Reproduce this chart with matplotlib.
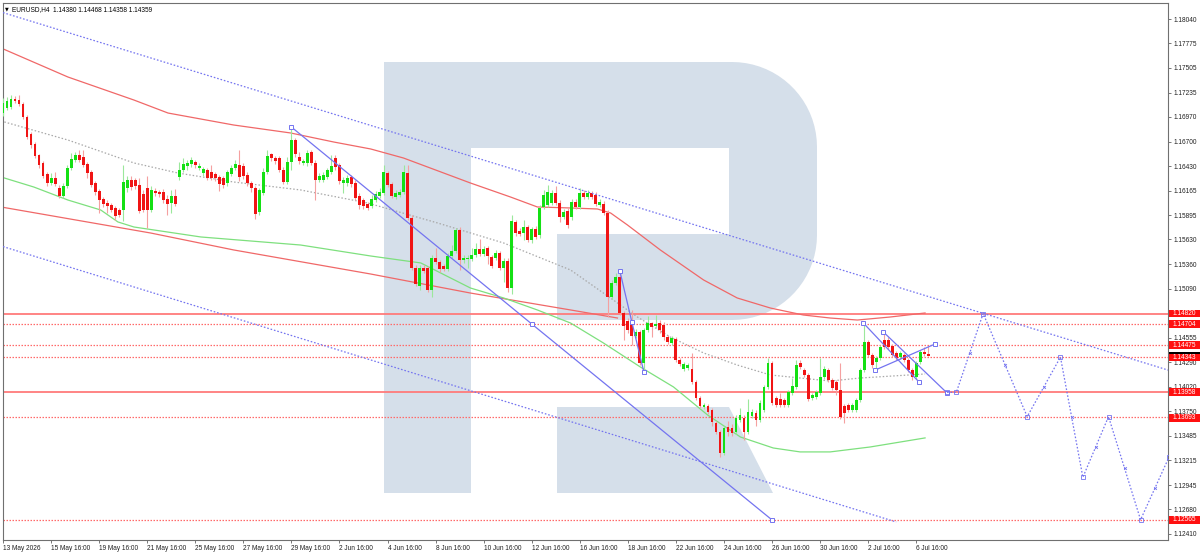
import matplotlib
matplotlib.use('Agg')
import matplotlib.pyplot as plt
import matplotlib.transforms as mtransforms
from matplotlib.patches import Rectangle, Polygon
import numpy as np

# EURUSD H4 свечи (бар 0 = 13 May 16:00)
opens = [
    1.17012, 1.17067, 1.17078, 1.17165, 1.17154, 1.17110, 1.16969, 1.16782, 1.16673, 1.16553,
    1.16465, 1.16345, 1.16247, 1.16302, 1.16192, 1.16104, 1.16214, 1.16411, 1.16498, 1.16553,
    1.16531, 1.16454, 1.16367, 1.16247, 1.16159, 1.16072, 1.16028, 1.16006, 1.15974, 1.15952,
    1.15952, 1.16192, 1.16280, 1.16280, 1.16225, 1.16126, 1.16192, 1.15952, 1.16159, 1.16148,
    1.16148, 1.16072, 1.16028, 1.16104, 1.16312, 1.16389, 1.16433, 1.16454, 1.16476, 1.16411,
    1.16356, 1.16389, 1.16367, 1.16345, 1.16312, 1.16302, 1.16247, 1.16345, 1.16411, 1.16443,
    1.16433, 1.16334, 1.16247, 1.16192, 1.15930, 1.16137, 1.16367, 1.16564, 1.16520, 1.16520,
    1.16389, 1.16258, 1.16476, 1.16717, 1.16531, 1.16465, 1.16465, 1.16586, 1.16465, 1.16280,
    1.16280, 1.16312, 1.16367, 1.16520, 1.16443, 1.16247, 1.16247, 1.16312, 1.16247, 1.16104,
    1.16061, 1.16017, 1.15996, 1.16061, 1.16104, 1.16137, 1.16356, 1.16236, 1.16094, 1.16115,
    1.16148, 1.16356, 1.15864, 1.15318, 1.15120, 1.15318, 1.15318, 1.15077, 1.15427, 1.15383,
    1.15340, 1.15307, 1.15449, 1.15503, 1.15733, 1.15405, 1.15416, 1.15416, 1.15460, 1.15525,
    1.15471, 1.15536, 1.15438, 1.15427, 1.15482, 1.15318, 1.15394, 1.15099, 1.15820, 1.15722,
    1.15700, 1.15766, 1.15624, 1.15744, 1.15678, 1.15985, 1.16006, 1.16028, 1.16137, 1.16028,
    1.15875, 1.15941, 1.15875, 1.16039, 1.15985, 1.16137, 1.16094, 1.16137, 1.16115, 1.16006,
    1.16017, 1.15919, 1.15001, 1.15153, 1.15220, 1.14825, 1.14738, 1.14727, 1.14574, 1.14618,
    1.14279, 1.14640, 1.14716, 1.14684, 1.14716, 1.14694, 1.14563, 1.14497, 1.14541, 1.14312,
    1.14214, 1.14225, 1.14214, 1.14071, 1.13897, 1.13798, 1.13809, 1.13765, 1.13623, 1.13525,
    1.13295, 1.13580, 1.13569, 1.13525, 1.13656, 1.13678, 1.13525, 1.13700, 1.13732, 1.13656,
    1.13765, 1.14017, 1.14279, 1.13897, 1.13886, 1.13875, 1.13820, 1.13951, 1.14017, 1.14279,
    1.14203, 1.14148, 1.13897, 1.13908, 1.13951, 1.14126, 1.14203, 1.14093, 1.14071, 1.13984,
    1.13809, 1.13820, 1.13765, 1.13765, 1.13875, 1.14203, 1.14508, 1.14366, 1.14290, 1.14334,
    1.14530, 1.14530, 1.14465, 1.14388, 1.14345, 1.14366, 1.14312, 1.14203, 1.14126, 1.14290,
    1.14399, 1.14380,
]
highs = [
    1.17176, 1.17187, 1.17209, 1.17198, 1.17209, 1.17132, 1.16990, 1.16804, 1.16695, 1.16564,
    1.16487, 1.16367, 1.16356, 1.16367, 1.16225, 1.16247, 1.16443, 1.16575, 1.16586, 1.16608,
    1.16608, 1.16476, 1.16389, 1.16269, 1.16181, 1.16094, 1.16061, 1.16028, 1.15996, 1.15974,
    1.16443, 1.16323, 1.16323, 1.16302, 1.16302, 1.16170, 1.16323, 1.16214, 1.16192, 1.16170,
    1.16181, 1.16115, 1.16170, 1.16181, 1.16476, 1.16520, 1.16498, 1.16531, 1.16498, 1.16465,
    1.16422, 1.16411, 1.16443, 1.16367, 1.16334, 1.16323, 1.16389, 1.16443, 1.16498, 1.16608,
    1.16465, 1.16367, 1.16269, 1.16214, 1.16192, 1.16411, 1.16608, 1.16575, 1.16542, 1.16542,
    1.16422, 1.16531, 1.16859, 1.16739, 1.16586, 1.16509, 1.16608, 1.16608, 1.16498, 1.16356,
    1.16367, 1.16411, 1.16553, 1.16553, 1.16465, 1.16312, 1.16334, 1.16334, 1.16280, 1.16137,
    1.16083, 1.16039, 1.16115, 1.16159, 1.16192, 1.16443, 1.16378, 1.16258, 1.16170, 1.16181,
    1.16443, 1.16443, 1.15897, 1.15351, 1.15351, 1.15351, 1.15340, 1.15460, 1.15536, 1.15405,
    1.15362, 1.15482, 1.15569, 1.15755, 1.15766, 1.15460, 1.15460, 1.15536, 1.15591, 1.15635,
    1.15558, 1.15558, 1.15460, 1.15514, 1.15503, 1.15427, 1.15427, 1.15897, 1.15842, 1.15755,
    1.15842, 1.15787, 1.15766, 1.15777, 1.16006, 1.16170, 1.16225, 1.16170, 1.16214, 1.16061,
    1.15963, 1.15974, 1.16072, 1.16072, 1.16192, 1.16170, 1.16170, 1.16159, 1.16148, 1.16072,
    1.16050, 1.15952, 1.15186, 1.15263, 1.15285, 1.14847, 1.14771, 1.14858, 1.14651, 1.14640,
    1.14662, 1.14793, 1.14727, 1.14804, 1.14749, 1.14727, 1.14585, 1.14574, 1.14563, 1.14334,
    1.14290, 1.14279, 1.14388, 1.14093, 1.13919, 1.13842, 1.13831, 1.13787, 1.13645, 1.13547,
    1.13591, 1.13645, 1.13612, 1.13711, 1.13787, 1.13711, 1.13886, 1.13776, 1.13765, 1.13875,
    1.14039, 1.14334, 1.14301, 1.13919, 1.13951, 1.13897, 1.13984, 1.14115, 1.14312, 1.14312,
    1.14225, 1.14170, 1.13951, 1.13984, 1.14334, 1.14246, 1.14225, 1.14115, 1.14093, 1.14279,
    1.13831, 1.13842, 1.13842, 1.13897, 1.14225, 1.14727, 1.14530, 1.14388, 1.14356, 1.14476,
    1.14607, 1.14563, 1.14486, 1.14410, 1.14410, 1.14388, 1.14334, 1.14225, 1.14301, 1.14421,
    1.14454, 1.14468,
]
lows = [
    1.16979, 1.17045, 1.17056, 1.17121, 1.17089, 1.16947, 1.16728, 1.16630, 1.16520, 1.16411,
    1.16302, 1.16214, 1.16225, 1.16214, 1.16083, 1.16083, 1.16192, 1.16389, 1.16476, 1.16476,
    1.16422, 1.16302, 1.16203, 1.16115, 1.15919, 1.15985, 1.15919, 1.15930, 1.15842, 1.15875,
    1.15831, 1.16148, 1.16170, 1.16181, 1.15919, 1.15930, 1.15755, 1.15930, 1.16104, 1.16094,
    1.16028, 1.15897, 1.15919, 1.15996, 1.16280, 1.16367, 1.16389, 1.16422, 1.16411, 1.16389,
    1.16323, 1.16280, 1.16280, 1.16269, 1.16159, 1.16192, 1.16214, 1.16323, 1.16389, 1.16269,
    1.16291, 1.16214, 1.16148, 1.15853, 1.15897, 1.16115, 1.16345, 1.16487, 1.16454, 1.16367,
    1.16236, 1.16236, 1.16389, 1.16531, 1.16454, 1.16443, 1.16433, 1.16443, 1.16061, 1.16258,
    1.16258, 1.16291, 1.16345, 1.16389, 1.16236, 1.16137, 1.16214, 1.16203, 1.16061, 1.15963,
    1.15963, 1.15952, 1.15974, 1.16039, 1.16083, 1.16115, 1.16203, 1.16083, 1.16072, 1.16094,
    1.16126, 1.15842, 1.15296, 1.15120, 1.15077, 1.15263, 1.15055, 1.15000, 1.15362, 1.15274,
    1.15285, 1.15285, 1.15427, 1.15482, 1.15296, 1.15372, 1.15318, 1.15394, 1.15438, 1.15449,
    1.15449, 1.15362, 1.15318, 1.15405, 1.15296, 1.15164, 1.15055, 1.15033, 1.15668, 1.15668,
    1.15624, 1.15602, 1.15591, 1.15635, 1.15646, 1.15963, 1.15985, 1.16006, 1.16006, 1.15820,
    1.15853, 1.15755, 1.15842, 1.15963, 1.15963, 1.16072, 1.16072, 1.16072, 1.15996, 1.15985,
    1.15897, 1.14782, 1.14979, 1.15132, 1.14804, 1.14530, 1.14607, 1.14476, 1.14552, 1.14257,
    1.14181, 1.14618, 1.14563, 1.14662, 1.14607, 1.14530, 1.14486, 1.14476, 1.14290, 1.14246,
    1.14192, 1.14203, 1.14049, 1.13875, 1.13787, 1.13776, 1.13721, 1.13590, 1.13503, 1.13252,
    1.13274, 1.13481, 1.13481, 1.13503, 1.13634, 1.13437, 1.13503, 1.13678, 1.13591, 1.13634,
    1.13743, 1.13995, 1.13820, 1.13798, 1.13798, 1.13798, 1.13798, 1.13929, 1.13995, 1.14214,
    1.14126, 1.13864, 1.13875, 1.13886, 1.13929, 1.14104, 1.14071, 1.13984, 1.13929, 1.13667,
    1.13623, 1.13743, 1.13743, 1.13743, 1.13853, 1.14181, 1.14345, 1.14225, 1.14203, 1.14312,
    1.14432, 1.14432, 1.14345, 1.14312, 1.14323, 1.14290, 1.14181, 1.14093, 1.14104, 1.14268,
    1.14356, 1.14358,
]
closes = [
    1.17121, 1.17143, 1.17165, 1.17143, 1.17110, 1.16969, 1.16750, 1.16662, 1.16542, 1.16443,
    1.16323, 1.16247, 1.16302, 1.16236, 1.16104, 1.16214, 1.16411, 1.16509, 1.16553, 1.16498,
    1.16443, 1.16356, 1.16225, 1.16148, 1.16061, 1.16017, 1.15996, 1.15952, 1.15886, 1.15897,
    1.16258, 1.16280, 1.16203, 1.16214, 1.15941, 1.15952, 1.15952, 1.16170, 1.16137, 1.16126,
    1.16061, 1.16017, 1.16104, 1.16017, 1.16389, 1.16454, 1.16465, 1.16498, 1.16443, 1.16433,
    1.16400, 1.16302, 1.16302, 1.16302, 1.16236, 1.16225, 1.16367, 1.16411, 1.16454, 1.16312,
    1.16323, 1.16247, 1.16192, 1.15908, 1.16170, 1.16367, 1.16542, 1.16520, 1.16487, 1.16389,
    1.16258, 1.16476, 1.16717, 1.16564, 1.16487, 1.16487, 1.16575, 1.16465, 1.16280, 1.16323,
    1.16334, 1.16389, 1.16433, 1.16422, 1.16269, 1.16280, 1.16302, 1.16236, 1.16083, 1.16006,
    1.15996, 1.15974, 1.16072, 1.16126, 1.16148, 1.16367, 1.16225, 1.16104, 1.16137, 1.16148,
    1.16367, 1.15864, 1.15318, 1.15142, 1.15318, 1.15285, 1.15077, 1.15427, 1.15383, 1.15307,
    1.15307, 1.15449, 1.15503, 1.15733, 1.15405, 1.15427, 1.15427, 1.15460, 1.15525, 1.15471,
    1.15525, 1.15449, 1.15340, 1.15482, 1.15318, 1.15394, 1.15099, 1.15831, 1.15700, 1.15689,
    1.15766, 1.15624, 1.15744, 1.15657, 1.15974, 1.16115, 1.16148, 1.16137, 1.16028, 1.15875,
    1.15930, 1.15787, 1.16039, 1.15985, 1.16137, 1.16094, 1.16137, 1.16094, 1.16017, 1.16039,
    1.15919, 1.15001, 1.15153, 1.15220, 1.14825, 1.14684, 1.14640, 1.14574, 1.14618, 1.14279,
    1.14640, 1.14716, 1.14673, 1.14705, 1.14640, 1.14563, 1.14508, 1.14552, 1.14312, 1.14268,
    1.14268, 1.14257, 1.14071, 1.13897, 1.13809, 1.13820, 1.13743, 1.13634, 1.13525, 1.13295,
    1.13569, 1.13525, 1.13514, 1.13678, 1.13711, 1.13525, 1.13743, 1.13743, 1.13656, 1.13842,
    1.14017, 1.14279, 1.13842, 1.13820, 1.13820, 1.13820, 1.13962, 1.14028, 1.14257, 1.14236,
    1.14148, 1.13886, 1.13929, 1.13962, 1.14126, 1.14214, 1.14093, 1.14006, 1.13984, 1.13689,
    1.13732, 1.13765, 1.13820, 1.13875, 1.14203, 1.14508, 1.14366, 1.14257, 1.14334, 1.14454,
    1.14454, 1.14454, 1.14366, 1.14334, 1.14388, 1.14312, 1.14203, 1.14126, 1.14279, 1.14399,
    1.14377, 1.14359,
]

# скользящие средние (номер бара, цена)
ma_red_x = [-0.5, 16.2, 32.7, 41.2, 57.6, 71.8, 82.6, 91.8, 100, 116.7, 126.7, 133.4, 141.7,
            148.4, 151.7, 155.9, 164.1, 174.9, 183.3, 191.6, 199.8, 206.5, 213.3, 221.5, 230.2]
ma_red_y = [1.17723, 1.17406, 1.17154, 1.17012, 1.16881, 1.16794, 1.16695, 1.16619, 1.16520,
            1.16247, 1.16094, 1.15985, 1.15974, 1.15963, 1.15919, 1.15788, 1.15515, 1.15187,
            1.14990, 1.14880, 1.14804, 1.14771, 1.14749, 1.14782, 1.14826]
ma_red2_x = [-0.5, 36.9, 57.6, 91.8, 116.7, 141.7, 153.4]
ma_red2_y = [1.15985, 1.15700, 1.15515, 1.15252, 1.15044, 1.14859, 1.14771]
ma_green_x = [-0.5, 7.7, 16.2, 24.4, 28.7, 32.7, 49.4, 74.3, 91.8, 104.3, 116.7, 125, 133.4,
              141.7, 149.9, 159.1, 167.4, 175.9, 184.1, 192.3, 199, 206.5, 216.5, 230.2]
ma_green_y = [1.16313, 1.16203, 1.16061, 1.15952, 1.15821, 1.15766, 1.15657, 1.15569, 1.15449,
              1.15373, 1.15099, 1.14990, 1.14859, 1.14716, 1.14498, 1.14236, 1.14017, 1.13711,
              1.13470, 1.13350, 1.13307, 1.13307, 1.13361, 1.13460]
ma_gray_x = [-0.5, 16.2, 32.7, 43.7, 57.6, 74.3, 91, 108.5, 125, 141.7, 158.4, 166.6, 174.9,
             183.3, 191.6, 206.5, 214, 230.2]
ma_gray_y = [1.16925, 1.16717, 1.16466, 1.16356, 1.16258, 1.16171, 1.16029, 1.15810, 1.15591,
             1.15296, 1.14782, 1.14563, 1.14389, 1.14257, 1.14148, 1.14082, 1.14115, 1.14159]

# уровни
solid_levels = [1.14820, 1.13958]
dotted_levels = [1.14704, 1.14475, 1.14343, 1.13693, 1.12565]
label_levels = [1.14820, 1.14704, 1.14475, 1.14343, 1.13958, 1.13693, 1.12565]
last_price = 1.14359

# трендовые линии и канал
chan_up_x, chan_up_y = [0, 291], [1.18110, 1.14200]
chan_lo_x, chan_lo_y = [0, 223], [1.15552, 1.12541]
trend1_x, trend1_y = [72, 132, 192], [1.16859, 1.14706, 1.12563]
trend2_x, trend2_y = [154, 157, 160], [1.15285, 1.14727, 1.14181]
tri_a_x, tri_a_y = [214.8, 228.7], [1.14716, 1.14071]
tri_b_x, tri_b_y = [219.8, 235.7], [1.14618, 1.13951]
tri_c_x, tri_c_y = [217.8, 232.7], [1.14203, 1.14487]
fc_x = [235.7, 238, 244.7, 255.7, 264, 269.6, 276, 284, 291.1]
fc_y = [1.13958, 1.13958, 1.14820, 1.13693, 1.14343, 1.13030, 1.13693, 1.12565, 1.13250]

yticks = [1.18040, 1.17775, 1.17505, 1.17235, 1.16970, 1.16700, 1.16430, 1.16165, 1.15895,
          1.15630, 1.15360, 1.15090, 1.14820, 1.14555, 1.14290, 1.14020, 1.13750, 1.13485,
          1.13215, 1.12945, 1.12680, 1.12410]
xtick_bars = [0, 12, 24, 36, 48, 60, 72, 84, 96, 108, 120, 132, 144, 156, 168, 180, 192, 204, 216, 228]
xtick_labels = ['13 May 2026', '15 May 16:00', '19 May 16:00', '21 May 16:00', '25 May 16:00',
                '27 May 16:00', '29 May 16:00', '2 Jun 16:00', '4 Jun 16:00', '8 Jun 16:00',
                '10 Jun 16:00', '12 Jun 16:00', '16 Jun 16:00', '18 Jun 16:00', '22 Jun 16:00',
                '24 Jun 16:00', '26 Jun 16:00', '30 Jun 16:00', '2 Jul 16:00', '6 Jul 16:00']

FONT = 'Liberation Sans'
FS = 4.7

fig = plt.figure(figsize=(12, 5.55), dpi=100)

# фоновый логотип (в пикселях)
bg = fig.add_axes([0, 0, 1, 1], zorder=0)
bg.set_xlim(0, 1200)
bg.set_ylim(555, 0)
bg.axis('off')
wm = '#d5dfea'
bg.add_patch(Rectangle((384, 62), 87, 431, color=wm, lw=0))
bg.add_patch(Rectangle((384, 62), 348, 86, color=wm, lw=0))
bg.add_patch(Rectangle((557, 234), 175, 86, color=wm, lw=0))
r = 85
t1 = np.linspace(np.pi / 2, 0, 20)
t2 = np.linspace(0, -np.pi / 2, 20)
pts = [(729, 62)] + [(732 + r * np.cos(t), 147 - r * np.sin(t)) for t in t1] \
    + [(732 + r * np.cos(t), 235 - r * np.sin(t)) for t in t2] + [(729, 320)]
bg.add_patch(Polygon(pts, closed=True, color=wm, lw=0))
bg.add_patch(Polygon([(557, 407), (729, 407), (773, 493), (557, 493)], closed=True, color=wm, lw=0))

ax = fig.add_axes([3 / 1200, 15 / 555, 1165 / 1200, 537 / 555], zorder=1)
ax.patch.set_visible(False)
ax.set_xlim(0.25, 290.85)
ax.set_ylim(1.12344, 1.18215)

# уровни
for lv in solid_levels:
    ax.axhline(lv, color='#ff7b7b', lw=1.3, zorder=2)
for lv in dotted_levels:
    ax.axhline(lv, color='#ff6a6a', lw=0.9, ls=(0, (1.2, 1.2)), zorder=2)

# средние
ax.plot(ma_red_x, ma_red_y, color='#f06868', lw=0.9, zorder=2)
ax.plot(ma_red2_x, ma_red2_y, color='#f06868', lw=0.9, zorder=2)
ax.plot(ma_green_x, ma_green_y, color='#7ee07e', lw=0.9, zorder=2)
ax.plot(ma_gray_x, ma_gray_y, color='#a8a8a8', lw=0.9, ls=(0, (1.2, 1.6)), zorder=2)

# свечи
o = np.array(opens)
h = np.array(highs)
l = np.array(lows)
c = np.array(closes)
idx = np.arange(len(o))
up = c >= o
ax.vlines(idx[up], l[up], h[up], color='#9be89b', lw=0.8, zorder=3)
ax.vlines(idx[~up], l[~up], h[~up], color='#f5a0a0', lw=0.8, zorder=3)
body = np.maximum(np.abs(c - o), 0.00004)
bottom = np.minimum(o, c)
ax.bar(idx[up], body[up], bottom=bottom[up], width=0.72, color='#14e014', lw=0, zorder=4)
ax.bar(idx[~up], body[~up], bottom=bottom[~up], width=0.72, color='#f01414', lw=0, zorder=4)

# канал и линии
blue = '#7474f0'
dots = (0, (1.3, 1.5))
ax.plot(chan_up_x, chan_up_y, color=blue, lw=0.9, ls=dots, zorder=5)
ax.plot(chan_lo_x, chan_lo_y, color=blue, lw=0.9, ls=dots, zorder=5)
for xs, ys in [(trend1_x, trend1_y), (trend2_x, trend2_y), (tri_a_x, tri_a_y),
               (tri_b_x, tri_b_y), (tri_c_x, tri_c_y)]:
    ax.plot(xs, ys, color=blue, lw=0.9, zorder=5, marker='s', ms=2.5, mfc='white', mec=blue, mew=0.7)
ax.plot(fc_x, fc_y, color=blue, lw=0.9, ls=dots, zorder=5, marker='s', ms=2.3, mfc='none', mec=blue, mew=0.6)
mid_x = [(a + b) / 2 for a, b in zip(fc_x[1:-1], fc_x[2:])]
mid_y = [(a + b) / 2 for a, b in zip(fc_y[1:-1], fc_y[2:])]
ax.plot(mid_x, mid_y, ls='none', marker='x', ms=2, mec=blue, mew=0.6, zorder=5)

# оси (подписи, закрытые красными метками, не дублируем)
ax.yaxis.tick_right()
ax.set_yticks(yticks)
ax.set_yticklabels(['' if v in label_levels else f'{v:.5f}' for v in yticks],
                   fontsize=FS, family=FONT, color='#202020')
ax.set_xticks(xtick_bars)
ax.set_xticklabels(xtick_labels, fontsize=FS, family=FONT, color='#202020', ha='left')
ax.tick_params(axis='y', direction='out', length=2.5, width=0.6, pad=1.5, colors='#606060', labelcolor='#202020')
ax.tick_params(axis='x', direction='out', length=2.5, width=0.6, pad=1.0, colors='#606060', labelcolor='#202020')
for sp in ax.spines.values():
    sp.set_color('#707070')
    sp.set_linewidth(0.8)

# ценовые метки справа (небольшой сдвиг, чтобы не наезжать на соседние подписи)
label_shift = {1.14343: -0.00004, 1.13693: -0.00012}
trans = mtransforms.blended_transform_factory(ax.transAxes, ax.transData)
box_h = 0.00085
ax.add_patch(Rectangle((1.0008, last_price - box_h / 2), 0.03, box_h, transform=trans,
                       fc='black', ec='none', clip_on=False, zorder=8))
for lv in label_levels:
    yc = lv + label_shift.get(lv, 0)
    ax.add_patch(Rectangle((1.0008, yc - box_h / 2), 0.03, box_h, transform=trans,
                           fc='#ff1010', ec='none', clip_on=False, zorder=9))
    ax.text(1.0035, yc, f'{lv:.5f}', transform=trans, fontsize=FS, family=FONT, color='white',
            va='center', ha='left', clip_on=False, zorder=10)

# заголовок
ax.text(0.002, 0.993, '\u25bc', transform=ax.transAxes, fontsize=3.5, family='DejaVu Sans',
        va='top', ha='left', color='black', zorder=10)
ax.text(0.0075, 0.995, 'EURUSD,H4  1.14380 1.14468 1.14358 1.14359', transform=ax.transAxes,
        fontsize=FS, family=FONT, va='top', ha='left', color='black', zorder=10)

fig.savefig('out.png', dpi=100)
